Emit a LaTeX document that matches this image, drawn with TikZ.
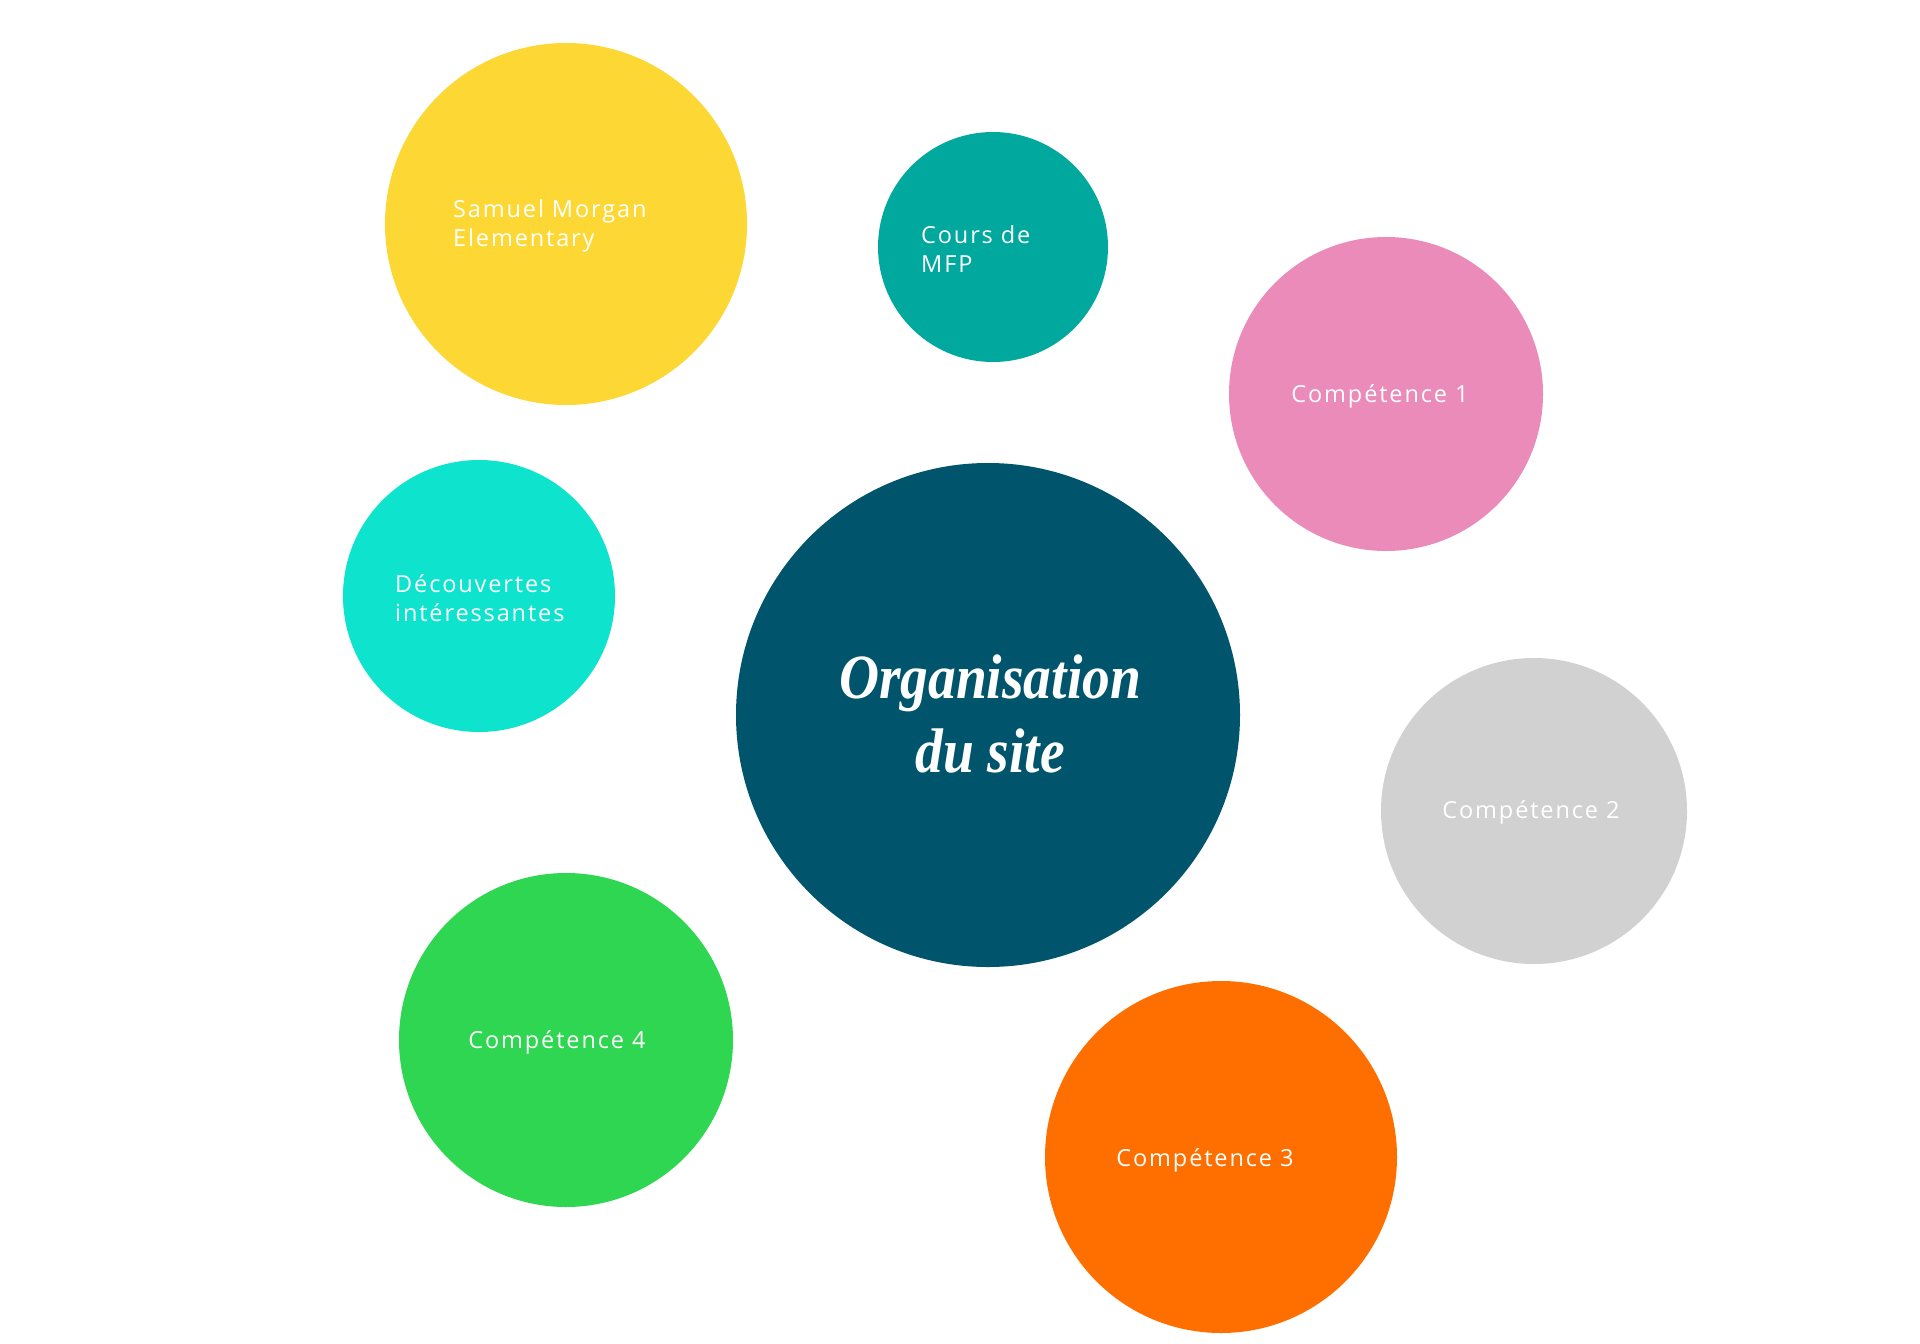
\documentclass[tikz,border=0pt]{standalone}
\usepackage{fontspec}
\setmainfont{Open Sans}
\newfontfamily\handfont[LetterSpace=8]{Open Sans}
\newfontfamily\titlefont[FakeStretch=0.88]{Liberation Serif}
\definecolor{cYellow}{RGB}{253,216,53}
\definecolor{cTeal}{RGB}{0,168,157}
\definecolor{cPink}{RGB}{234,139,186}
\definecolor{cCyan}{RGB}{13,227,205}
\definecolor{cDark}{RGB}{0,84,108}
\definecolor{cGray}{RGB}{209,209,209}
\definecolor{cGreen}{RGB}{46,214,81}
\definecolor{cOrange}{RGB}{255,111,0}
\tikzset{
  bubble/.style={circle, inner sep=0pt, draw=none},
  lbl/.style={text=white, font=\handfont\fontsize{23.5}{29}\selectfont, inner sep=0pt},
  lblleft/.style={lbl, align=left, anchor=west},
  title/.style={text=white, font=\titlefont\bfseries\itshape\fontsize{63}{74}\selectfont, align=center, inner sep=0pt}
}
\begin{document}
\begin{tikzpicture}[x=1pt,y=-1pt]
\useasboundingbox (0,0) rectangle (1920,1344);
\fill[white] (0,0) rectangle (1920,1344);
% bubbles
\node[bubble, fill=cYellow, minimum size=362pt] (yellow) at (566,224) {};
\node[bubble, fill=cTeal, minimum size=230pt] (teal) at (993,247) {};
\node[bubble, fill=cPink, minimum size=314pt] (pink) at (1386,394) {};
\node[bubble, fill=cCyan, minimum size=272pt] (cyan) at (479,596) {};
\node[bubble, fill=cDark, minimum size=504pt] (center) at (988,715) {};
\node[bubble, fill=cGray, minimum size=306pt] (gray) at (1534,811) {};
\node[bubble, fill=cGreen, minimum size=334pt] (green) at (566,1040) {};
\node[bubble, fill=cOrange, minimum size=352pt] (orange) at (1221,1157) {};
% labels
\node[lblleft] (tyellow) at (453,226) {Samuel Morgan\\Elementary};
\node[lblleft] (tteal) at (921,249) {Cours de\\MFP};
\node[lbl] (tpink) at (1380,396) {Compétence 1};
\node[lblleft] (tcyan) at (395,598) {Découvertes\\intéressantes};
\node[title] (tcenter) at (990,714) {Organisation\\du site};
\node[lbl] (tgray) at (1531,812) {Compétence 2};
\node[lbl] (tgreen) at (557,1042) {Compétence 4};
\node[lbl] (torange) at (1205,1160) {Compétence 3};
\end{tikzpicture}
\end{document}
